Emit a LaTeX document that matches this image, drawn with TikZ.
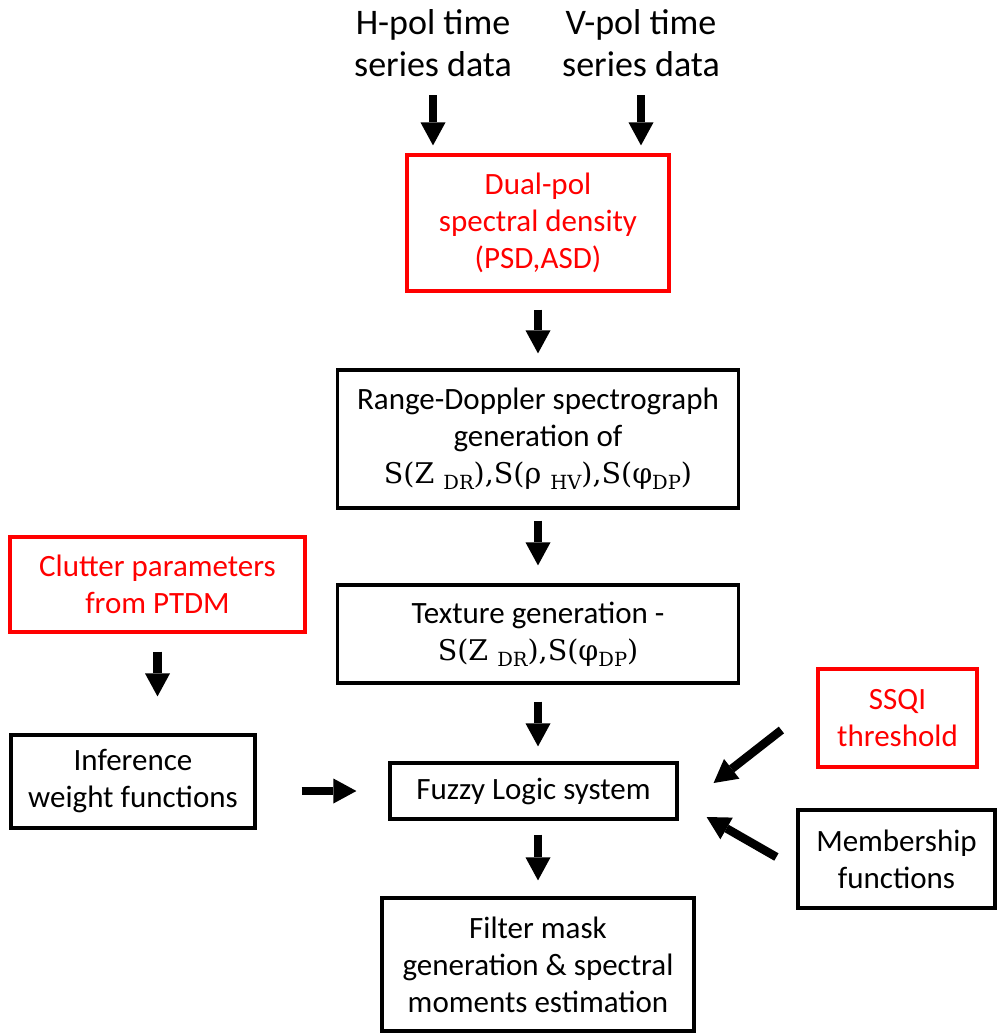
\documentclass[tikz,border=0pt]{standalone}
\usepackage{fontspec}
\setmainfont{Carlito}
\newfontfamily\formulafont{DejaVu Serif}
\usetikzlibrary{arrows.meta}
% formula line set in a serif face, with lowered small subscripts
\newcommand\fm[1]{{\formulafont\fontsize{28.5}{37}\selectfont #1}}
\newcommand\lsub[1]{\raisebox{-0.22em}{\fontsize{19.5}{19.5}\selectfont #1}}

\begin{document}
\begin{tikzpicture}[x=1pt,y=-1pt,
  box/.style={draw=black,line width=3.2pt,align=center,inner sep=0pt,
    font=\fontsize{31}{37}\selectfont},
  redbox/.style={box,draw=red,text=red},
  toplabel/.style={align=center,inner sep=0pt,font=\fontsize{36}{42}\selectfont},
  flow/.style={line width=8.5pt,
    -{Triangle[width=25pt,length=23pt,line width=0pt]}}
]
\useasboundingbox (0,0) rectangle (997,1034);

% inputs
\node[toplabel] (hpol) at (433,43) {H-pol time\\series data};
\node[toplabel] (vpol) at (641,43) {V-pol time\\series data};

% main chain
\node[redbox,minimum width=262pt,minimum height=136pt] (dual) at (538,223)
  {Dual-pol\\spectral density\\(PSD,ASD)};
\node[box,minimum width=401pt,minimum height=138pt] (range) at (538,439)
  {Range-Doppler spectrograph\\generation of\\
   \fm{S(Z\ \lsub{DR}),S(ρ\ \lsub{HV}),S(φ\lsub{DP})}};
\node[box,minimum width=401pt,minimum height=98pt] (texture) at (538,634)
  {Texture generation -\\
   \fm{S(Z\ \lsub{DR}),S(φ\lsub{DP})}};
\node[box,minimum width=287pt,minimum height=56pt] (fuzzy) at (533.5,791)
  {Fuzzy Logic system};
\node[box,minimum width=312pt,minimum height=133pt] (filter) at (538,964.5)
  {Filter mask\\generation \& spectral\\moments estimation};

% side inputs
\node[redbox,minimum width=295pt,minimum height=95pt] (clutter) at (157.5,584.5)
  {Clutter parameters\\from PTDM};
\node[box,minimum width=244pt,minimum height=93pt] (infer) at (133,781.5)
  {Inference\\weight functions};
\node[redbox,minimum width=159pt,minimum height=98pt] (ssqi) at (897.5,718)
  {SSQI\\threshold};
\node[box,minimum width=197pt,minimum height=98pt] (member) at (896.5,859)
  {Membership\\functions};

% connectors
\draw[flow] ([yshift=58pt]dual.north -| hpol) -- ([yshift=8pt]dual.north -| hpol);
\draw[flow] ([yshift=58pt]dual.north -| vpol) -- ([yshift=8pt]dual.north -| vpol);
\draw[flow,shorten <=17pt,shorten >=15pt] (dual.south) -- (range.north);
\draw[flow,shorten <=11pt,shorten >=18pt] (range.south) -- (texture.north);
\draw[flow,shorten <=17pt,shorten >=15pt] (texture.south) -- (texture.south |- fuzzy.north);
\draw[flow,shorten <=14pt,shorten >=16pt] (filter.north |- fuzzy.south) -- (filter.north);
\draw[flow,shorten <=18pt,shorten >=37pt] (clutter.south) -- (clutter.south |- infer.north);
\draw[flow,shorten <=45pt,shorten >=32pt] (infer.east |- fuzzy.west) -- (fuzzy.west);
\draw[flow] ([shift={(-35pt,-12pt)}]ssqi.west) -- ([shift={(35pt,8pt)}]fuzzy.east);
\draw[flow] ([shift={(-20pt,2pt)}]member.west) -- ([shift={(28pt,-26pt)}]fuzzy.east);
\end{tikzpicture}
\end{document}
